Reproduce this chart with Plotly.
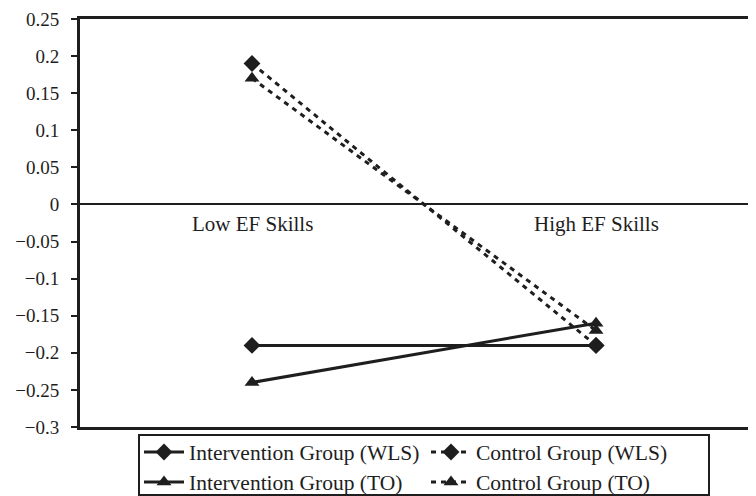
import plotly.graph_objects as go

categories = ["Low EF Skills", "High EF Skills"]
intervention_wls = [-0.19, -0.19]
control_wls = [0.19, -0.19]
intervention_to = [-0.24, -0.16]
control_to = [0.17, -0.17]
y_ticks = [0.25, 0.2, 0.15, 0.1, 0.05, 0, -0.05, -0.1, -0.15, -0.2, -0.25, -0.3]
y_tick_text = ["0.25", "0.2", "0.15", "0.1", "0.05", "0", "\u22120.05", "\u22120.1", "\u22120.15", "\u22120.2", "\u22120.25", "\u22120.3"]

xpos = list(range(len(categories)))
font = "Liberation Serif"
ink = "#1e1e1e"

# figure is drawn at an 8px page offset (default body margin)
W, H = 748, 488
L, T, B = 72, 11, 69
plot_w, plot_h = W - L, H - T - B
plot_bottom = H - B


def px(xf):
    return (xf - L) / plot_w


def py(yf):
    return (plot_bottom - yf) / plot_h


fig = go.Figure()
series = [
    ("Intervention Group (WLS)", intervention_wls, "solid", "diamond", "legend"),
    ("Control Group (WLS)", control_wls, "5px,5px", "diamond", "legend"),
    ("Intervention Group (TO)", intervention_to, "solid", "triangle-up", "legend2"),
    ("Control Group (TO)", control_to, "5px,5px", "triangle-up", "legend2"),
]
for name, vals, dash, sym, lg in series:
    fig.add_trace(go.Scatter(
        x=xpos, y=vals, name=name, mode="lines+markers", legend=lg,
        line=dict(color=ink, width=3, dash=dash),
        marker=dict(symbol=sym, size=13, color=ink),
    ))

for i, c in enumerate(categories):
    fig.add_annotation(x=xpos[i], y=0, text=c, showarrow=False, xref="x", yref="y",
                       yanchor="top", yshift=-6, font=dict(family=font, size=21, color=ink))

# legend frame
fig.add_shape(type="rect", xref="paper", yref="paper",
              x0=px(131), x1=px(701), y0=py(487), y1=py(427),
              line=dict(color=ink, width=2), fillcolor="rgba(0,0,0,0)")

legend_common = dict(orientation="h", xanchor="left", yanchor="middle",
                     entrywidth=232, entrywidthmode="pixels",
                     borderwidth=0, bgcolor="rgba(0,0,0,0)",
                     font=dict(family=font, size=21.5, color=ink),
                     itemwidth=40, tracegroupgap=0)

fig.update_layout(
    width=W, height=H,
    margin=dict(l=L, r=0, t=T, b=B, autoexpand=False),
    paper_bgcolor="white", plot_bgcolor="white",
    font=dict(family=font, size=19, color=ink),
    showlegend=True,
    legend=dict(x=px(131), y=py(444), **legend_common),
    legend2=dict(x=px(131), y=py(474), **legend_common),
)
fig.update_xaxes(range=[-0.5, 1.465], showticklabels=False, showgrid=False, zeroline=False,
                 showline=True, mirror=True, linecolor=ink, linewidth=2.5, ticks="")
fig.update_yaxes(range=[-0.3, 0.25], tickvals=y_ticks, ticktext=y_tick_text, showgrid=False,
                 zeroline=True, zerolinecolor=ink, zerolinewidth=2,
                 showline=True, linecolor=ink, linewidth=3, ticks="outside", ticklen=6,
                 tickwidth=2, tickcolor=ink, ticklabelstandoff=8,
                 tickfont=dict(family=font, size=19, color=ink))

fig.write_html("out.html")
